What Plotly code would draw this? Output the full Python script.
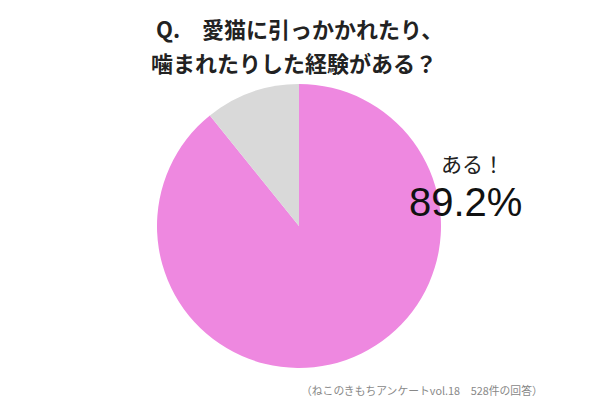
import plotly.graph_objects as go

labels = ["ある", "ない"]
values = [89.2, 10.8]
colors = ["#EE88E0", "#D9D9D9"]

title_lines = ["Q.　愛猫に引っかかれたり、", "噛まれたりした経験がある？"]
answer_label = "ある！"
answer_value = "89.2%"
source_note = "（ねこのきもちアンケートvol.18　528件の回答）"

fig = go.Figure(go.Pie(
    labels=labels, values=values, sort=False, direction="clockwise", rotation=0,
    marker=dict(colors=colors, line=dict(width=0)), textinfo="none", hoverinfo="label+percent",
    domain=dict(x=[149/600, 433/600], y=[1 - 360/400, 1 - 76/400]), showlegend=False,
))

font = "Noto Sans CJK JP"
fig.add_annotation(x=291/600, y=1 - 20/400, xref="paper", yref="paper", text="<b>" + title_lines[0] + "</b>",
                   showarrow=False, font=dict(family=font, size=22, color="#222"), xanchor="center", yanchor="middle")
fig.add_annotation(x=286/600, y=1 - 54/400, xref="paper", yref="paper", text="<b>" + title_lines[1] + "</b>",
                   showarrow=False, font=dict(family=font, size=22, color="#222"), xanchor="center", yanchor="middle")
fig.add_annotation(x=464/600, y=1 - 155/400, xref="paper", yref="paper", text=answer_label,
                   showarrow=False, font=dict(family=font, size=21, color="#222"), xanchor="center", yanchor="middle")
fig.add_annotation(x=457/600, y=1 - 194/400, xref="paper", yref="paper", text=answer_value,
                   showarrow=False, font=dict(family="Liberation Sans", size=40, color="#111"), xanchor="center", yanchor="middle")
fig.add_annotation(x=414/600, y=1 - 382/400, xref="paper", yref="paper", text=source_note,
                   showarrow=False, font=dict(family=font, size=10.8, color="#888"), xanchor="center", yanchor="middle")

fig.update_layout(width=600, height=400, margin=dict(l=0, r=0, t=0, b=0),
                  paper_bgcolor="white", plot_bgcolor="white")
fig.write_html("out.html")
